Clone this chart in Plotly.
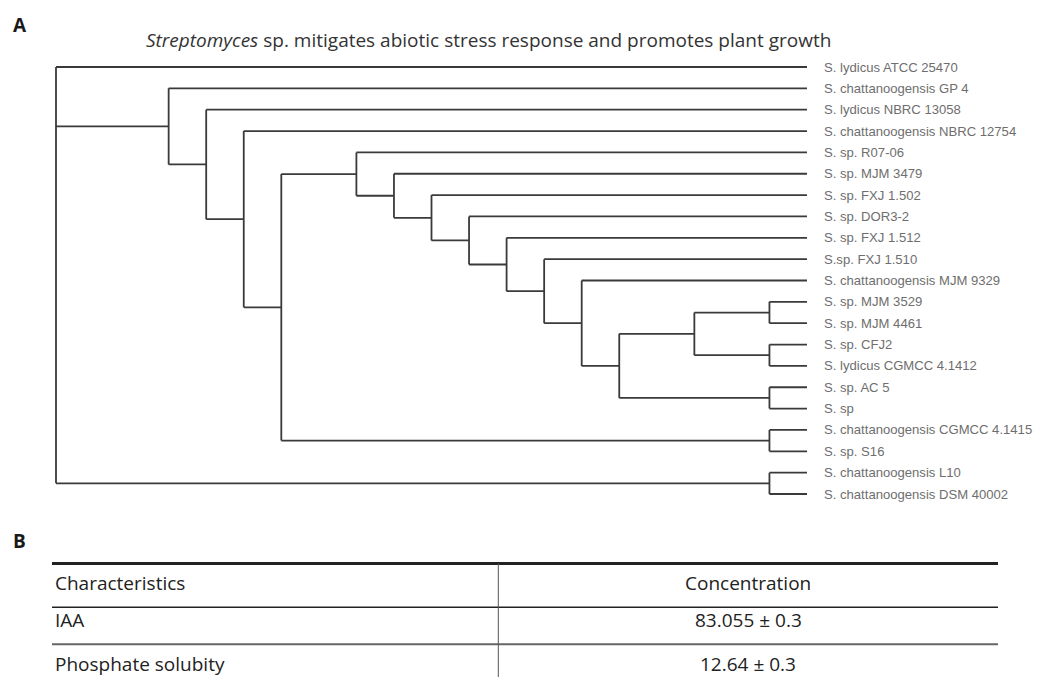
import plotly.graph_objects as go

# ---------------- data ----------------
leaf_names = [
    "S. lydicus ATCC 25470",
    "S. chattanoogensis GP 4",
    "S. lydicus NBRC 13058",
    "S. chattanoogensis NBRC 12754",
    "S. sp. R07-06",
    "S. sp. MJM 3479",
    "S. sp. FXJ 1.502",
    "S. sp. DOR3-2",
    "S. sp. FXJ 1.512",
    "S.sp. FXJ 1.510",
    "S. chattanoogensis MJM 9329",
    "S. sp. MJM 3529",
    "S. sp. MJM 4461",
    "S. sp. CFJ2",
    "S. lydicus CGMCC 4.1412",
    "S. sp. AC 5",
    "S. sp",
    "S. chattanoogensis CGMCC 4.1415",
    "S. sp. S16",
    "S. chattanoogensis L10",
    "S. chattanoogensis DSM 40002",
]
leaf_depth = 1.0

# internal nodes: id, depth (cladogram units), children (leaf index ints or node ids)
node_ids = ["root", "n1", "n2", "n3", "n4", "n5", "n6", "n7", "n8", "n9",
            "n10", "n11", "n12", "n13", "p1", "p2", "p3", "p5", "p6"]
node_depths = [0.00, 0.15, 0.20, 0.25, 0.30, 0.40, 0.45, 0.50, 0.55, 0.60,
               0.65, 0.70, 0.75, 0.85, 0.95, 0.95, 0.95, 0.95, 0.95]
node_children = [
    [0, "n1", "p6"],
    [1, "n2"],
    [2, "n3"],
    [3, "n4"],
    ["n5", "p5"],
    [4, "n6"],
    [5, "n7"],
    [6, "n8"],
    [7, "n9"],
    [8, "n10"],
    [9, "n11"],
    [10, "n12"],
    ["n13", "p3"],
    ["p1", "p2"],
    [11, 12],
    [13, 14],
    [15, 16],
    [17, 18],
    [19, 20],
]

title_text = "<i>Streptomyces</i> sp. mitigates abiotic stress response and promotes plant growth"

table_header = ["Characteristics", "Concentration"]
table_col1 = ["IAA", "Phosphate solubity"]
table_col2 = ["83.055 \u00b1 0.3", "12.64 \u00b1 0.3"]

# ---------------- tree geometry ----------------
nodes = {nid: (d, ch) for nid, d, ch in zip(node_ids, node_depths, node_children)}

pos_cache = {}


def node_pos(c):
    if isinstance(c, int):
        return leaf_depth, float(c)
    if c in pos_cache:
        return pos_cache[c]
    d, ch = nodes[c]
    ys = [node_pos(k)[1] for k in ch]
    y = sum(ys) / len(ys)
    pos_cache[c] = (d, y)
    return d, y


xs, ys = [], []
for nid in node_ids:
    d, ch = nodes[nid]
    cys = [node_pos(k)[1] for k in ch]
    xs += [d, d, None]
    ys += [min(cys), max(cys), None]
    for k in ch:
        kd, ky = node_pos(k)
        xs += [d, kd, None]
        ys += [ky, ky, None]

# page body has an 8px margin; figure placed at (8, 8)
OFF = 8
W, H = 1044 - OFF, 677 - OFF

fig = go.Figure()
fig.add_trace(go.Scatter(
    x=xs, y=ys, mode="lines",
    line=dict(color="#3a3a3a", width=1.8),
    hoverinfo="skip", showlegend=False,
))


def px(x):
    return (x - OFF) / W


def py(y):
    return 1 - (y - OFF) / H


# x: depth 0 -> px 56, depth 1 -> px 807 ; y: leaf 0 -> px 67, leaf 20 -> px 494
xpx_per = 751.0
ypx_per = 427.0 / 20
x0, x1 = -0.02, 1.02
y0, y1 = -0.5, 20.5
xdom = [px(56 + x0 * xpx_per), px(56 + x1 * xpx_per)]
ydom = [py(67 + y1 * ypx_per), py(67 + y0 * ypx_per)]

fig.update_xaxes(range=[x0, x1], domain=xdom, visible=False, fixedrange=True)
fig.update_yaxes(range=[y1, y0], domain=ydom, visible=False, fixedrange=True)

annotations = []
for i, name in enumerate(leaf_names):
    annotations.append(dict(
        x=leaf_depth, y=i, xref="x", yref="y", text=name, showarrow=False,
        xanchor="left", yanchor="middle", xshift=15,
        font=dict(family="Liberation Sans, Arial", size=13.1, color="#6e6e6e"),
    ))

# panel letters and title
annotations.append(dict(x=px(11), y=py(25), xref="paper", yref="paper", text="<b>A</b>",
                        showarrow=False, xanchor="left", yanchor="middle",
                        font=dict(family="Open Sans", size=19, color="#1a1a1a")))
annotations.append(dict(x=px(11), y=py(541), xref="paper", yref="paper", text="<b>B</b>",
                        showarrow=False, xanchor="left", yanchor="middle",
                        font=dict(family="Open Sans", size=19, color="#1a1a1a")))
annotations.append(dict(x=px(488), y=py(40), xref="paper", yref="paper", text=title_text,
                        showarrow=False, xanchor="center", yanchor="middle",
                        font=dict(family="Open Sans", size=19, color="#333333")))

# ---------------- table ----------------
tl, tr, tmid = 52, 998, 498.3
row_y = [583, 620, 663.5]
col1 = [table_header[0]] + table_col1
col2 = [table_header[1]] + table_col2
tfont = dict(family="Open Sans", size=19, color="#222222")
for yy, a, b in zip(row_y, col1, col2):
    annotations.append(dict(x=px(tl + 1), y=py(yy), xref="paper", yref="paper", text=a,
                            showarrow=False, xanchor="left", yanchor="middle", font=tfont))
    annotations.append(dict(x=px((tmid + tr) / 2), y=py(yy), xref="paper", yref="paper", text=b,
                            showarrow=False, xanchor="center", yanchor="middle", font=tfont))

shapes = [
    dict(type="line", xref="paper", yref="paper", x0=px(tl), x1=px(tr), y0=py(563.5), y1=py(563.5),
         line=dict(color="#222222", width=3)),
    dict(type="line", xref="paper", yref="paper", x0=px(tl), x1=px(tr), y0=py(607.3), y1=py(607.3),
         line=dict(color="#222222", width=1.5)),
    dict(type="line", xref="paper", yref="paper", x0=px(tl), x1=px(tr), y0=py(644.3), y1=py(644.3),
         line=dict(color="#666666", width=2)),
    dict(type="line", xref="paper", yref="paper", x0=px(tmid), x1=px(tmid), y0=py(563.5), y1=py(677),
         line=dict(color="#555555", width=1)),
]

fig.update_layout(
    width=W, height=H,
    margin=dict(l=0, r=0, t=0, b=0),
    paper_bgcolor="white", plot_bgcolor="white",
    annotations=annotations, shapes=shapes,
)

fig.write_html("out.html")
